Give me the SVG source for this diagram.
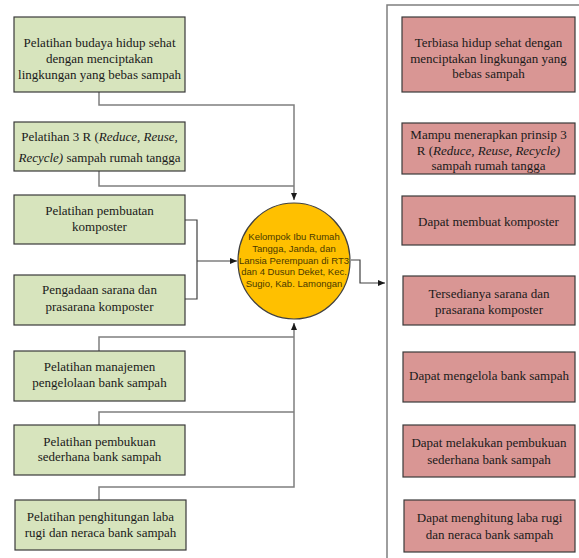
<svg xmlns="http://www.w3.org/2000/svg" width="579" height="558" viewBox="0 0 579 558">
<style>
.g{fill:#D7E4BD;stroke:#3a3a3a;stroke-width:1.2}
.p{fill:#D99694;stroke:#3a3a3a;stroke-width:1.2}
.t{font-family:"Liberation Serif","Times New Roman",serif;font-size:13px;fill:#1a1a1a;text-anchor:middle}
.i{font-style:italic}
.c{font-family:"Liberation Sans",Arial,sans-serif;font-size:9.5px;fill:#4a3a00;text-anchor:middle}
.ln{fill:none;stroke:#7f7f7f;stroke-width:1.5}
.dk{fill:none;stroke:#404040;stroke-width:1.2}
</style>
<defs>
<marker id="ah" markerWidth="8" markerHeight="8" refX="7" refY="4" orient="auto" markerUnits="userSpaceOnUse">
<path d="M0,1 L7,4 L0,7 Z" fill="#1a1a1a"/>
</marker>
</defs>
<rect width="579" height="558" fill="#ffffff"/>
<g id="connectors">
<path class="ln" d="M99,92 V105 H294 V200" marker-end="url(#ah)"/>
<path class="ln" d="M99,171 V186 H294"/>
<path class="dk" d="M185,220 H197 V299 H185"/>
<path class="dk" d="M197,261 H237" marker-end="url(#ah)"/>
<path class="ln" d="M99,351 V337 H294"/>
<path class="ln" d="M99,425 V412 H294"/>
<path class="ln" d="M99,500 V487 H294 V323" marker-end="url(#ah)"/>
<path class="dk" d="M351,260 H360 V283 H385" marker-end="url(#ah)"/>
<path class="ln" d="M387,558 V5 H579"/>
</g>
<g id="g1"><rect class="g" x="14" y="17" width="171" height="75"/>
<text class="t" x="99.5" y="47">Pelatihan budaya hidup sehat</text>
<text class="t" x="99.5" y="63">dengan menciptakan</text>
<text class="t" x="99.5" y="79">lingkungan yang bebas sampah</text></g>
<g id="g2"><rect class="g" x="14" y="122" width="171" height="49"/>
<text class="t" x="99.5" y="141">Pelatihan 3 R (<tspan class="i">Reduce, Reuse,</tspan></text>
<text class="t" x="99.5" y="162"><tspan class="i">Recycle)</tspan> sampah rumah tangga</text></g>
<g id="g3"><rect class="g" x="14" y="195" width="171" height="49"/>
<text class="t" x="99.5" y="215">Pelatihan pembuatan</text>
<text class="t" x="99.5" y="231">komposter</text></g>
<g id="g4"><rect class="g" x="14" y="275" width="171" height="50"/>
<text class="t" x="99.5" y="294">Pengadaan sarana dan</text>
<text class="t" x="99.5" y="311">prasarana komposter</text></g>
<g id="g5"><rect class="g" x="14" y="351" width="171" height="50"/>
<text class="t" x="99.5" y="371">Pelatihan manajemen</text>
<text class="t" x="99.5" y="387">pengelolaan bank sampah</text></g>
<g id="g6"><rect class="g" x="14" y="425" width="171" height="50"/>
<text class="t" x="99.5" y="446">Pelatihan pembukuan</text>
<text class="t" x="99.5" y="461">sederhana bank sampah</text></g>
<g id="g7"><rect class="g" x="15" y="500" width="171" height="50"/>
<text class="t" x="100.5" y="521">Pelatihan penghitungan laba</text>
<text class="t" x="100.5" y="537">rugi dan neraca bank sampah</text></g>
<g id="center"><ellipse cx="294" cy="261" rx="56" ry="58" fill="#FFC000" stroke="#404040" stroke-width="1.2"/>
<text class="c" x="294" y="240">Kelompok Ibu Rumah</text>
<text class="c" x="294" y="252">Tangga, Janda, dan</text>
<text class="c" x="294" y="263.5">Lansia Perempuan di RT3</text>
<text class="c" x="294" y="275">dan 4 Dusun Deket, Kec.</text>
<text class="c" x="294" y="286.5">Sugio, Kab. Lamongan</text></g>
<g id="p1"><rect class="p" x="402" y="17" width="173" height="75"/>
<text class="t" x="488.5" y="47">Terbiasa hidup sehat dengan</text>
<text class="t" x="488.5" y="63">menciptakan lingkungan yang</text>
<text class="t" x="488.5" y="78">bebas sampah</text></g>
<g id="p2"><rect class="p" x="402" y="123" width="173" height="51"/>
<text class="t" x="488.5" y="139">Mampu menerapkan prinsip 3</text>
<text class="t" x="488.5" y="155">R (<tspan class="i">Reduce, Reuse, Recycle)</tspan></text>
<text class="t" x="488.5" y="170">sampah rumah tangga</text></g>
<g id="p3"><rect class="p" x="402" y="196" width="173" height="49"/>
<text class="t" x="488.5" y="226">Dapat membuat komposter</text></g>
<g id="p4"><rect class="p" x="403" y="276" width="172" height="49"/>
<text class="t" x="489" y="298">Tersedianya sarana dan</text>
<text class="t" x="489" y="314">prasarana komposter</text></g>
<g id="p5"><rect class="p" x="403" y="352" width="172" height="50"/>
<text class="t" x="489" y="380">Dapat mengelola bank sampah</text></g>
<g id="p6"><rect class="p" x="403" y="425" width="172" height="52"/>
<text class="t" x="489" y="447">Dapat melakukan pembukuan</text>
<text class="t" x="489" y="464">sederhana bank sampah</text></g>
<g id="p7"><rect class="p" x="404" y="500" width="171" height="52"/>
<text class="t" x="489.5" y="522">Dapat menghitung laba rugi</text>
<text class="t" x="489.5" y="539">dan neraca bank sampah</text></g>
</svg>
